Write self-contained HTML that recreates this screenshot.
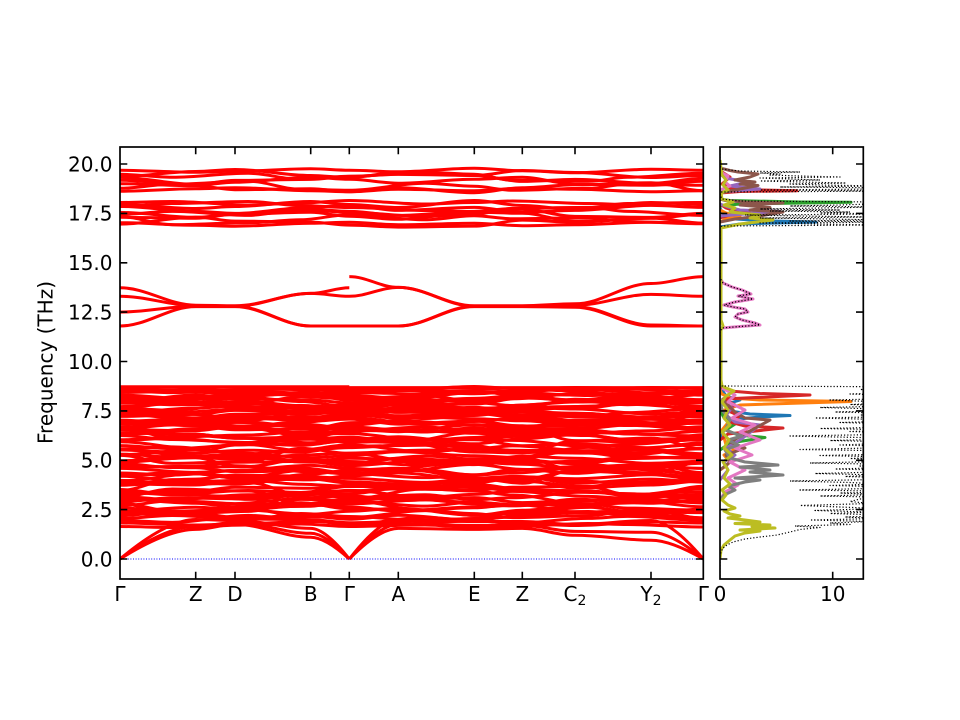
<!DOCTYPE html>
<html><head><meta charset="utf-8">
<style>
html,body{margin:0;padding:0;background:#fff;}
svg{display:block;}
text{font-family:"DejaVu Sans","Liberation Sans",sans-serif;font-size:20px;fill:#000;}
</style></head><body>
<svg width="960" height="720" viewBox="0 0 960 720" xmlns="http://www.w3.org/2000/svg" xmlns:xlink="http://www.w3.org/1999/xlink">
<rect x="0" y="0" width="960" height="720" fill="#fff"/>
<defs>
<clipPath id="cm"><rect x="120" y="147" width="583.3" height="432"/></clipPath>
<clipPath id="cd"><rect x="720" y="147" width="143.3" height="432"/></clipPath>
<path id="T1" d="M120 0 C147.3 0 168.4 4 195.7 4 C209.8 4 220.9 2 235 2 C262.3 2 283.4 -3 310.7 -3 C324.6 -3 335.4 0 349.3 0 C366.9 0 380.7 3 398.3 3 C425.7 3 446.9 -4 474.3 -4 C491.6 -4 505 1 522.3 1 C541.3 1 556 5 575 5 C602.4 5 623.6 -2 651 -2 C669.8 -2 684.5 0 703.3 0"/>
<path id="T2" d="M120 3 C147.3 3 168.4 -2 195.7 -2 C209.8 -2 220.9 -4 235 -4 C262.3 -4 283.4 2 310.7 2 C324.6 2 335.4 4 349.3 4 C366.9 4 380.7 -1 398.3 -1 C425.7 -1 446.9 2 474.3 2 C491.6 2 505 -3 522.3 -3 C541.3 -3 556 -1 575 -1 C602.4 -1 623.6 4 651 4 C669.8 4 684.5 2 703.3 2"/>
<path id="T3" d="M120 -3 C147.3 -3 168.4 1 195.7 1 C209.8 1 220.9 5 235 5 C262.3 5 283.4 4 310.7 4 C324.6 4 335.4 -2 349.3 -2 C366.9 -2 380.7 -4 398.3 -4 C425.7 -4 446.9 0 474.3 0 C491.6 0 505 3 522.3 3 C541.3 3 556 -3 575 -3 C602.4 -3 623.6 1 651 1 C669.8 1 684.5 -2 703.3 -2"/>
<path id="T4" d="M120 2 C147.3 2 168.4 -5 195.7 -5 C209.8 -5 220.9 -1 235 -1 C262.3 -1 283.4 0 310.7 0 C324.6 0 335.4 3 349.3 3 C366.9 3 380.7 5 398.3 5 C425.7 5 446.9 4 474.3 4 C491.6 4 505 -2 522.3 -2 C541.3 -2 556 0 575 0 C602.4 0 623.6 -4 651 -4 C669.8 -4 684.5 1 703.3 1"/>
<path id="T5" d="M120 -2 C147.3 -2 168.4 3 195.7 3 C209.8 3 220.9 0 235 0 C262.3 0 283.4 -5 310.7 -5 C324.6 -5 335.4 -3 349.3 -3 C366.9 -3 380.7 1 398.3 1 C425.7 1 446.9 -3 474.3 -3 C491.6 -3 505 -5 522.3 -5 C541.3 -5 556 2 575 2 C602.4 2 623.6 3 651 3 C669.8 3 684.5 -1 703.3 -1"/>
<path id="T6" d="M120 0 C147.3 0 168.4 -1 195.7 -1 C209.8 -1 220.9 3 235 3 C262.3 3 283.4 5 310.7 5 C324.6 5 335.4 1 349.3 1 C366.9 1 380.7 -2 398.3 -2 C425.7 -2 446.9 5 474.3 5 C491.6 5 505 4 522.3 4 C541.3 4 556 -4 575 -4 C602.4 -4 623.6 -1 651 -1 C669.8 -1 684.5 3 703.3 3"/>
<path id="T7" d="M120 4 C147.3 4 168.4 2 195.7 2 C209.8 2 220.9 -2 235 -2 C262.3 -2 283.4 -1 310.7 -1 C324.6 -1 335.4 -4 349.3 -4 C366.9 -4 380.7 0 398.3 0 C425.7 0 446.9 -5 474.3 -5 C491.6 -5 505 0 522.3 0 C541.3 0 556 3 575 3 C602.4 3 623.6 5 651 5 C669.8 5 684.5 -3 703.3 -3"/>
<path id="T8" d="M120 -4 C147.3 -4 168.4 -3 195.7 -3 C209.8 -3 220.9 1 235 1 C262.3 1 283.4 2 310.7 2 C324.6 2 335.4 5 349.3 5 C366.9 5 380.7 4 398.3 4 C425.7 4 446.9 1 474.3 1 C491.6 1 505 -1 522.3 -1 C541.3 -1 556 -5 575 -5 C602.4 -5 623.6 -3 651 -3 C669.8 -3 684.5 0 703.3 0"/>
<path id="W1" d="M120 0 C147.3 0 168.4 -6 195.7 -6 C209.8 -6 220.9 -8 235 -8 C262.3 -8 283.4 2 310.7 2 C324.6 2 335.4 6 349.3 6 C366.9 6 380.7 8 398.3 8 C425.7 8 446.9 -2 474.3 -2 C491.6 -2 505 -7 522.3 -7 C541.3 -7 556 6 575 6 C602.4 6 623.6 8 651 8 C669.8 8 684.5 0 703.3 0"/>
<path id="W2" d="M120 5 C147.3 5 168.4 8 195.7 8 C209.8 8 220.9 0 235 0 C262.3 0 283.4 -6 310.7 -6 C324.6 -6 335.4 -8 349.3 -8 C366.9 -8 380.7 -3 398.3 -3 C425.7 -3 446.9 7 474.3 7 C491.6 7 505 8 522.3 8 C541.3 8 556 -4 575 -4 C602.4 -4 623.6 -7 651 -7 C669.8 -7 684.5 4 703.3 4"/>
<path id="S1" d="M120 0 C147.3 0 168.4 2 195.7 2 C209.8 2 220.9 1 235 1 C262.3 1 283.4 -1.5 310.7 -1.5 C324.6 -1.5 335.4 0 349.3 0 C366.9 0 380.7 1.5 398.3 1.5 C425.7 1.5 446.9 -2 474.3 -2 C491.6 -2 505 0.5 522.3 0.5 C541.3 0.5 556 2.5 575 2.5 C602.4 2.5 623.6 -1 651 -1 C669.8 -1 684.5 0 703.3 0"/>
<path id="S2" d="M120 1.5 C147.3 1.5 168.4 -1 195.7 -1 C209.8 -1 220.9 -2 235 -2 C262.3 -2 283.4 1 310.7 1 C324.6 1 335.4 2 349.3 2 C366.9 2 380.7 -0.5 398.3 -0.5 C425.7 -0.5 446.9 1 474.3 1 C491.6 1 505 -1.5 522.3 -1.5 C541.3 -1.5 556 -0.5 575 -0.5 C602.4 -0.5 623.6 2 651 2 C669.8 2 684.5 1 703.3 1"/>
</defs>

<!-- BANDS -->
<g clip-path="url(#cm)" fill="none" stroke="#ff0000" stroke-width="3" stroke-linejoin="round">
<!-- top group upper -->
<use href="#S1" xlink:href="#S1" transform="translate(0,170.3)"/>
<use href="#T2" xlink:href="#T2" transform="translate(0,173.5)"/>
<use href="#T3" xlink:href="#T3" transform="matrix(-1,0,0,1,823.3,176.3)"/>
<use href="#T4" xlink:href="#T4" transform="matrix(1,0,0,-1,0,179.4)"/>
<use href="#T5" xlink:href="#T5" transform="translate(0,182.2)"/>
<use href="#T6" xlink:href="#T6" transform="matrix(-1,0,0,1,823.3,185.3)"/>
<use href="#T7" xlink:href="#T7" transform="matrix(1,0,0,-1,0,187.7)"/>
<use href="#S2" xlink:href="#S2" transform="translate(0,189.7)"/>
<!-- top group lower -->
<use href="#S1" xlink:href="#S1" transform="matrix(-1,0,0,1,823.3,202.5)"/>
<use href="#T1" xlink:href="#T1" transform="translate(0,204.5)"/>
<use href="#T8" xlink:href="#T8" transform="matrix(-1,0,0,1,823.3,206.5)"/>
<use href="#T2" xlink:href="#T2" transform="matrix(1,0,0,-1,0,209.4)"/>
<use href="#T3" xlink:href="#T3" transform="matrix(-1,0,0,-1,823.3,212.4)"/>
<use href="#T5" xlink:href="#T5" transform="translate(0,214.4)"/>
<use href="#T6" xlink:href="#T6" transform="matrix(1,0,0,-1,0,217.3)"/>
<use href="#T7" xlink:href="#T7" transform="matrix(-1,0,0,1,823.3,219.7)"/>
<use href="#T4" xlink:href="#T4" transform="translate(0,222.1)"/>
<use href="#S2" xlink:href="#S2" transform="matrix(1,0,0,-1,0,224.2)"/>

<!-- middle bands -->
<path d="M120 287.8 C147.3 287.8 168.4 305.2 195.7 305.2 C209.8 305.2 220.9 305.8 235 305.8 C262.3 305.8 283.4 293.4 310.7 293.4 C324.6 293.4 335.4 287.8 349.3 287.8 M349.3 276.6 C366.9 276.6 380.7 287.4 398.3 287.4 C425.7 287.4 446.9 305.8 474.3 305.8 C491.6 305.8 505 305.8 522.3 305.8 C541.3 305.8 556 303.8 575 303.8 C602.4 303.8 623.6 283.5 651 283.5 C669.8 283.5 684.5 276.6 703.3 276.6"/>
<path d="M120 296.3 C147.3 296.3 168.4 305.6 195.7 305.6 C209.8 305.6 220.9 306.2 235 306.2 C262.3 306.2 283.4 293.4 310.7 293.4 C324.6 293.4 335.4 296.3 349.3 296.3 M349.3 296.3 C366.9 296.3 380.7 287.4 398.3 287.4 C425.7 287.4 446.9 306.2 474.3 306.2 C491.6 306.2 505 306.2 522.3 306.2 C541.3 306.2 556 305.2 575 305.2 C602.4 305.2 623.6 294.4 651 294.4 C669.8 294.4 684.5 296.3 703.3 296.3"/>
<path d="M120 312.1 C147.3 312.1 168.4 306.2 195.7 306.2 C209.8 306.2 220.9 306.2 235 306.2 C262.3 306.2 283.4 326 310.7 326 C324.6 326 335.4 326 349.3 326 M349.3 326 C366.9 326 380.7 326 398.3 326 C425.7 326 446.9 306.2 474.3 306.2 C491.6 306.2 505 306.2 522.3 306.2 C541.3 306.2 556 306.6 575 306.6 C602.4 306.6 623.6 325 651 325 C669.8 325 684.5 326 703.3 326"/>
<path d="M120 326 C147.3 326 168.4 306.6 195.7 306.6 C209.8 306.6 220.9 306.6 235 306.6 C262.3 306.6 283.4 326 310.7 326 L349.3 326 M349.3 326 L398.3 326 C425.7 326 446.9 306.6 474.3 306.6 L522.3 306.6 C541.3 306.6 556 307.2 575 307.2 C602.4 307.2 623.6 326 651 326 L703.3 326"/>

<!-- dense region -->
<path d="M120 386.8 H349.3 M349.3 387.6 H703.3"/>
<use href="#S1" xlink:href="#S1" transform="translate(0,388.5)"/>
<use href="#T8" xlink:href="#T8" transform="matrix(1,0,0,0.5,0,389.3)"/>
<use href="#S2" xlink:href="#S2" transform="matrix(-1,0,0,1,823.3,390.2)"/>
<use href="#S1" xlink:href="#S1" transform="matrix(1,0,0,-1,0,391.8)"/>
<use href="#T3" xlink:href="#T3" transform="matrix(-1,0,0,0.6,823.3,392.6)"/>
<use href="#S2" xlink:href="#S2" transform="matrix(-1,0,0,-1,823.3,393.5)"/>
<use href="#T1" xlink:href="#T1" transform="translate(0,395.1)"/>
<use href="#T2" xlink:href="#T2" transform="matrix(-1,0,0,1,823.3,396.8)"/>
<use href="#T6" xlink:href="#T6" transform="matrix(1,0,0,-1,0,397.6)"/>
<use href="#T3" xlink:href="#T3" transform="matrix(1,0,0,-1,0,398.4)"/>
<use href="#T4" xlink:href="#T4" transform="translate(0,400)"/>
<use href="#T5" xlink:href="#T5" transform="matrix(-1,0,0,1,823.3,401.7)"/>
<use href="#T1" xlink:href="#T1" transform="matrix(-1,0,0,-1,823.3,402.5)"/>
<use href="#T6" xlink:href="#T6" transform="translate(0,403.3)"/>
<use href="#T7" xlink:href="#T7" transform="matrix(1,0,0,-1,0,405)"/>
<use href="#T8" xlink:href="#T8" transform="matrix(-1,0,0,1,823.3,406.6)"/>
<use href="#T4" xlink:href="#T4" transform="matrix(-1,0,0,1,823.3,407.4)"/>
<use href="#T1" xlink:href="#T1" transform="matrix(-1,0,0,-1,823.3,408.3)"/>
<use href="#T2" xlink:href="#T2" transform="translate(0,410)"/>
<use href="#T3" xlink:href="#T3" transform="matrix(-1,0,0,1,823.3,411.6)"/>
<use href="#T7" xlink:href="#T7" transform="translate(0,412.4)"/>
<use href="#T4" xlink:href="#T4" transform="matrix(1,0,0,-1,0,413.2)"/>
<use href="#T5" xlink:href="#T5" transform="translate(0,414.9)"/>
<use href="#T6" xlink:href="#T6" transform="matrix(-1,0,0,-1,823.3,416.5)"/>
<use href="#T2" xlink:href="#T2" transform="matrix(-1,0,0,-1,823.3,417.3)"/>
<use href="#T7" xlink:href="#T7" transform="translate(0,418.2)"/>
<use href="#T8" xlink:href="#T8" transform="matrix(1,0,0,-1,0,419.8)"/>
<use href="#T1" xlink:href="#T1" transform="matrix(-1,0,0,1,823.3,421.5)"/>
<use href="#T5" xlink:href="#T5" transform="matrix(1,0,0,-1,0,422.3)"/>
<use href="#T2" xlink:href="#T2" transform="matrix(1,0,0,-1,0,423.1)"/>
<use href="#T3" xlink:href="#T3" transform="translate(0,424.8)"/>
<use href="#T4" xlink:href="#T4" transform="matrix(-1,0,0,1,823.3,426.4)"/>
<use href="#T8" xlink:href="#T8" transform="matrix(-1,0,0,1,823.3,427.2)"/>
<use href="#T5" xlink:href="#T5" transform="matrix(-1,0,0,-1,823.3,428)"/>
<use href="#T6" xlink:href="#T6" transform="matrix(1,0,0,-1,0,429.7)"/>

<use href="#T7" xlink:href="#T7" transform="matrix(-1,0,0,1,823.3,432)"/>
<use href="#T3" xlink:href="#T3" transform="translate(0,433.3)"/>
<use href="#W1" xlink:href="#W1" transform="translate(0,434.6)"/>
<use href="#T8" xlink:href="#T8" transform="translate(0,437.2)"/>
<use href="#T6" xlink:href="#T6" transform="matrix(-1,0,0,-1,823.3,438.5)"/>
<use href="#T1" xlink:href="#T1" transform="matrix(1,0,0,-1,0,439.8)"/>
<use href="#T2" xlink:href="#T2" transform="matrix(-1,0,0,-1,823.3,442.4)"/>
<use href="#T4" xlink:href="#T4" transform="matrix(1,0,0,-1,0,443.7)"/>
<use href="#W2" xlink:href="#W2" transform="translate(0,445)"/>
<use href="#T3" xlink:href="#T3" transform="matrix(-1,0,0,1,823.3,447.6)"/>
<use href="#T1" xlink:href="#T1" transform="matrix(-1,0,0,1,823.3,448.9)"/>
<use href="#T4" xlink:href="#T4" transform="matrix(-1,0,0,-1,823.3,450.2)"/>
<use href="#T5" xlink:href="#T5" transform="matrix(1,0,0,-1,0,452.8)"/>
<use href="#T8" xlink:href="#T8" transform="matrix(-1,0,0,-1,823.3,454.1)"/>
<use href="#W1" xlink:href="#W1" transform="matrix(-1,0,0,1,823.3,455.4)"/>
<use href="#T6" xlink:href="#T6" transform="matrix(-1,0,0,1,823.3,458)"/>
<use href="#T2" xlink:href="#T2" transform="translate(0,459.3)"/>
<use href="#T7" xlink:href="#T7" transform="matrix(-1,0,0,-1,823.3,460.6)"/>
<use href="#T8" xlink:href="#T8" transform="matrix(1,0,0,-1,0,463.2)"/>
<use href="#T5" xlink:href="#T5" transform="matrix(-1,0,0,1,823.3,464.5)"/>
<use href="#W2" xlink:href="#W2" transform="matrix(1,0,0,-1,0,465.8)"/>
<use href="#T1" xlink:href="#T1" transform="translate(0,468.4)"/>
<use href="#T7" xlink:href="#T7" transform="matrix(1,0,0,-1,0,469.7)"/>
<use href="#T2" xlink:href="#T2" transform="matrix(-1,0,0,1,823.3,471)"/>
<use href="#T3" xlink:href="#T3" transform="matrix(-1,0,0,-1,823.3,473.6)"/>
<use href="#T6" xlink:href="#T6" transform="translate(0,474.9)"/>
<use href="#W1" xlink:href="#W1" transform="matrix(1,0,0,-1,0,476.2)"/>
<use href="#T4" xlink:href="#T4" transform="translate(0,478.8)"/>
<use href="#T3" xlink:href="#T3" transform="matrix(1,0,0,-1,0,480.1)"/>
<use href="#T5" xlink:href="#T5" transform="matrix(-1,0,0,1,823.3,481.4)"/>
<use href="#T6" xlink:href="#T6" transform="matrix(1,0,0,-1,0,484)"/>
<use href="#T8" xlink:href="#T8" transform="matrix(-1,0,0,1,823.3,485.3)"/>
<use href="#W2" xlink:href="#W2" transform="matrix(-1,0,0,1,823.3,486.6)"/>
<use href="#T7" xlink:href="#T7" transform="translate(0,489.2)"/>
<use href="#T4" xlink:href="#T4" transform="matrix(-1,0,0,-1,823.3,490.5)"/>
<use href="#T8" xlink:href="#T8" transform="matrix(-1,0,0,-1,823.3,491.8)"/>
<use href="#T1" xlink:href="#T1" transform="matrix(-1,0,0,1,823.3,494.4)"/>
<use href="#T2" xlink:href="#T2" transform="matrix(-1,0,0,1,823.3,495.7)"/>
<use href="#W1" xlink:href="#W1" transform="matrix(-1,0,0,-1,823.3,497)"/>
<use href="#T2" xlink:href="#T2" transform="matrix(1,0,0,-1,0,499.6)"/>
<use href="#T5" xlink:href="#T5" transform="matrix(-1,0,0,-1,823.3,500.9)"/>
<use href="#T3" xlink:href="#T3" transform="translate(0,502.2)"/>
<use href="#T4" xlink:href="#T4" transform="matrix(-1,0,0,1,823.3,504.8)"/>
<use href="#T7" xlink:href="#T7" transform="matrix(-1,0,0,1,823.3,506.1)"/>
<use href="#W2" xlink:href="#W2" transform="matrix(-1,0,0,-1,823.3,507.4)"/>
<use href="#T5" xlink:href="#T5" transform="translate(0,510)"/>
<use href="#T1" xlink:href="#T1" transform="matrix(1,0,0,-1,0,511.3)"/>
<use href="#T6" xlink:href="#T6" transform="matrix(-1,0,0,1,823.3,512.6)"/>
<use href="#T7" xlink:href="#T7" transform="matrix(1,0,0,-1,0,515.2)"/>
<use href="#T3" xlink:href="#T3" transform="matrix(-1,0,0,-1,823.3,516.5)"/>
<use href="#T8" xlink:href="#T8" transform="translate(0,517.8)"/>
<use href="#T1" xlink:href="#T1" transform="matrix(-1,0,0,-1,823.3,520.4)"/>
<use href="#S1" xlink:href="#S1" transform="translate(0,523)"/>
<use href="#S2" xlink:href="#S2" transform="matrix(-1,0,0,1,823.3,525.5)"/>

<!-- acoustic -->
<path d="M120 559 C157.9 535.3 180.6 529.4 195.7 529.4 C209.8 529.4 220.9 524.4 235 524.4 C262.3 524.4 283.4 537.3 310.7 537.3 C318.4 537.3 330 541.6 349.3 559 M349.3 559 C373.8 534 388.5 528.4 398.3 528.4 C425.7 528.4 446.9 529.4 474.3 529.4 C491.6 529.4 505 528.4 522.3 528.4 C541.3 528.4 556 535.3 575 535.3 C602.4 535.3 623.6 540.2 651 540.2 C661.5 540.2 677.2 543.9 703.3 559"/>
<path d="M120 559 C157.9 532.5 180.6 526.4 195.7 526.4 C209.8 526.4 220.9 522.5 235 522.5 C262.3 522.5 283.4 533.3 310.7 533.3 C318.4 533.3 330 538.4 349.3 559 M349.3 559 C373.8 531.4 388.5 524.4 398.3 524.4 C425.7 524.4 446.9 525.4 474.3 525.4 C491.6 525.4 505 525.4 522.3 525.4 C541.3 525.4 556 531.4 575 531.4 C602.4 531.4 623.6 532.3 651 532.3 C661.5 532.3 677.2 537.6 703.3 559"/>
<path d="M120 559 C157.9 527.4 180.6 519.5 195.7 519.5 C209.8 519.5 220.9 520.5 235 520.5 C262.3 520.5 283.4 528.4 310.7 528.4 C318.4 528.4 330 534.5 349.3 559 M349.3 559 C373.8 527.4 388.5 519.5 398.3 519.5 C425.7 519.5 446.9 521.5 474.3 521.5 C491.6 521.5 505 521.5 522.3 521.5 C541.3 521.5 556 524.4 575 524.4 C602.4 524.4 623.6 520.5 651 520.5 C661.5 520.5 677.2 528.2 703.3 559"/>
</g>

<line x1="120" y1="559" x2="703.3" y2="559" stroke="#0000ff" stroke-width="1" stroke-dasharray="1 1.6"/>

<!-- DOS -->
<g clip-path="url(#cd)" fill="none" stroke-width="3" stroke-linejoin="round">
<polyline stroke="#1f77b4" points="720,440 724,430 735,424 728,420 760,417 790,415.5 750,414 730,411 724,405 740,400 726,396 722,390 720,386"/>
<polyline stroke="#1f77b4" points="720,227 740,224 816,222 770,221 735,219 726,216 722,212 720,208"/>
<polyline stroke="#ff7f0e" points="720,470 726,466 730,462 724,455 735,450 726,445 722,430 730,420 724,410 740,405 851,401.5 760,400 730,398 722,394 720,390"/>
<polyline stroke="#ff7f0e" points="720,222 728,218 740,216 726,213 720,210"/>
<polyline stroke="#2ca02c" points="720,450 730,443 765,437.5 738,435 726,430 735,424 724,418 720,410"/>
<polyline stroke="#2ca02c" points="720,206 740,204 851,202.3 800,202 730,200.5 720,199"/>
<polyline stroke="#d62728" points="720,440 728,434 783,428 745,426 730,422 740,416 726,410 735,405 724,399 810,395 760,393.5 730,391 722,388 720,386"/>
<polyline stroke="#d62728" points="720,218 730,215 750,213 735,211 726,208 720,204"/>
<polyline stroke="#d62728" points="720,193 740,191.5 797,190.7 760,190 730,188 722,184 730,177 722,172 720,170"/>
<polyline stroke="#9467bd" points="720,480 728,470 724,462 735,455 726,448 740,440 760,425 735,422 726,415 732,408 722,400"/>
<polyline stroke="#9467bd" points="720,216 745,214 780,211.5 740,210 728,207 720,204"/>
<polyline stroke="#9467bd" points="720,192 760,189 730,186 748,182 725,178 720,174"/>
<polyline stroke="#8c564b" points="720,470 730,462 726,455 745,448 730,442 770,420 745,418 735,412 728,405 722,398"/>
<polyline stroke="#8c564b" points="720,222 735,219 760,216 783,212 750,210 770,207.5 740,205 783,203 745,202 725,200.5 720,199"/>
<polyline stroke="#8c564b" points="720,193 735,190 745,188 758,185.5 740,184 755,182 735,180 750,177 758,174 738,172 730,170.5 720,168"/>
<polyline stroke="#e377c2" points="720,500 725,492 738,485 728,478 745,470 730,462 752,455 735,448 760,440 740,432 755,425 732,418 745,410 728,402 735,395 722,388"/>
<polyline stroke="#e377c2" points="720,332 722,328 740,326.5 760,325 755,323 742,320 735,317 738,314 748,312 745,309 733,307 724,305 735,302 753,299 738,296 751,294 742,290 732,287 723,283 720,278"/>
<polyline stroke="#e377c2" points="720,190 730,186 725,182 728,176 720,172"/>
<polyline stroke="#7f7f7f" points="720,500 724,495 735,490 728,486 745,482 760,480 735,478 783,475 750,472 770,470 740,467 778,465 745,462 730,458 725,450 738,445 728,440 742,436 725,430 730,420 722,410 720,400"/>
<polyline stroke="#bcbd22" points="720,559 721,550 724,545 730,540 735,536 745,533 760,531 740,530 775,528 752,526.5 770,525 735,523.5 760,522 745,520 728,518 740,516 730,514 724,511 735,508 728,505 722,500 726,495 722,490 730,484 724,478 728,470 723,462 732,455 724,448 729,440 722,432 730,425 724,418 728,410 722,402 726,396 734,391 726,388 722,386 721,380 721,330 723,326 721,320 721,228 740,224 773,220 750,218 760,215 730,212 735,208 724,205 733,202 722,199 721,193 728,190 723,185 726,180 722,175 721,168 720,160"/>
<polyline stroke="#000" stroke-width="1.2" stroke-dasharray="1.2 2" points="720,579 720,556 721,552 723,548 727,545 733,542 745,539 760,537 777,535 790,532 800,529.5 820,527.5 795,526 850,524.5 830,523 870,521.5 810,520 880,518.5 845,517 900,515.5 830,513.5 870,512 815,510.5 880,508.5 840,507 800,505.5 870,503.5 850,501.5 860,499 900,497.5 820,496 880,494.5 840,493 910,491.5 800,490 870,488.5 900,487 830,485.5 880,484 850,482.5 790,481 880,479.5 900,478 845,476.5 880,475 815,473.5 880,472 900,470.5 835,469 890,467.5 860,466 900,464.5 810,463 880,461.5 900,460 850,458.5 890,457 820,455.5 900,454 870,452.5 900,451 800,449.5 870,448 900,446.5 840,445 880,443.5 900,442 830,440.5 900,439 860,437.5 790,436 880,434.5 900,433 850,431.5 900,430 820,428.5 900,427 870,425.5 900,424 840,422.5 900,421 880,419.5 815,418 900,416.5 860,415 900,413.5 835,412 900,410.5 880,409 820,407.5 900,406 850,404.5 900,403 870,401.5 830,400 900,398.5 880,397 900,395.5 850,394 900,392.5 900,391 860,389.5 900,388 900,386.8 722,386 720,384 720,332 722,328 740,326.5 760,325 755,323 742,320 735,317 738,314 748,312 745,309 733,307 724,305 735,302 753,299 738,296 751,294 742,290 732,287 723,283 720,278 720,228 722,226 880,225 820,224 760,223 900,222 790,221 880,220 830,219 760,218 870,217 800,216 745,215 890,214 820,213 850,212 770,211 840,210 760,209 820,208 880,207 790,206 840,205 870,204 900,203 880,202 740,201 722,199 720,195 721,192 900,191 760,190 880,189 900,188 780,187 880,186 820,185 790,184 846,183 800,182 760,181 820,180 790,179 760,178 840,177 800,176 770,175 780,174 760,173 800,172 740,171 730,170 722,169 720,166 720,147"/>
</g>

<!-- spines -->
<rect x="120" y="147" width="583.3" height="432" fill="none" stroke="#000" stroke-width="1.7"/>
<rect x="720" y="147" width="143.3" height="432" fill="none" stroke="#000" stroke-width="1.7"/>

<!-- ticks -->
<path fill="none" stroke="#000" stroke-width="1.6" d="
M120 559h7.3M120 509.6h7.3M120 460.3h7.3M120 410.9h7.3M120 361.5h7.3M120 312.1h7.3M120 262.8h7.3M120 213.4h7.3M120 164h7.3
M703.3 559h-7.3M703.3 509.6h-7.3M703.3 460.3h-7.3M703.3 410.9h-7.3M703.3 361.5h-7.3M703.3 312.1h-7.3M703.3 262.8h-7.3M703.3 213.4h-7.3M703.3 164h-7.3
M720 559h7.3M720 509.6h7.3M720 460.3h7.3M720 410.9h7.3M720 361.5h7.3M720 312.1h7.3M720 262.8h7.3M720 213.4h7.3M720 164h7.3
M863.3 559h-7.3M863.3 509.6h-7.3M863.3 460.3h-7.3M863.3 410.9h-7.3M863.3 361.5h-7.3M863.3 312.1h-7.3M863.3 262.8h-7.3M863.3 213.4h-7.3M863.3 164h-7.3
M195.7 579v-7.3M235 579v-7.3M310.7 579v-7.3M349.3 579v-7.3M398.3 579v-7.3M474.3 579v-7.3M522.3 579v-7.3M575 579v-7.3M651 579v-7.3
M195.7 147v7.3M235 147v7.3M310.7 147v7.3M349.3 147v7.3M398.3 147v7.3M474.3 147v7.3M522.3 147v7.3M575 147v7.3M651 147v7.3
M832.7 579v-7.3M832.7 147v7.3"/>

<!-- y tick labels -->
<g text-anchor="end">
<text x="112.5" y="566.3">0.0</text>
<text x="112.5" y="516.9">2.5</text>
<text x="112.5" y="467.6">5.0</text>
<text x="112.5" y="418.2">7.5</text>
<text x="112.5" y="368.8">10.0</text>
<text x="112.5" y="319.4">12.5</text>
<text x="112.5" y="270.1">15.0</text>
<text x="112.5" y="220.7">17.5</text>
<text x="112.5" y="171.3">20.0</text>
</g>
<text transform="translate(52.5,362.5) rotate(-90)" text-anchor="middle">Frequency (THz)</text>

<!-- x tick labels -->
<g text-anchor="middle">
<text x="120" y="601">Γ</text>
<text x="195.7" y="601">Z</text>
<text x="235" y="601">D</text>
<text x="310.7" y="601">B</text>
<text x="349.3" y="601">Γ</text>
<text x="398.3" y="601">A</text>
<text x="474.3" y="601">E</text>
<text x="522.3" y="601">Z</text>
<text x="575" y="601">C<tspan font-size="14" dy="4">2</tspan></text>
<text x="651" y="601">Y<tspan font-size="14" dy="4">2</tspan></text>
<text x="703.3" y="601">Γ</text>
<text x="720" y="601">0</text>
<text x="832.7" y="601">10</text>
</g>
</svg>
</body></html>
